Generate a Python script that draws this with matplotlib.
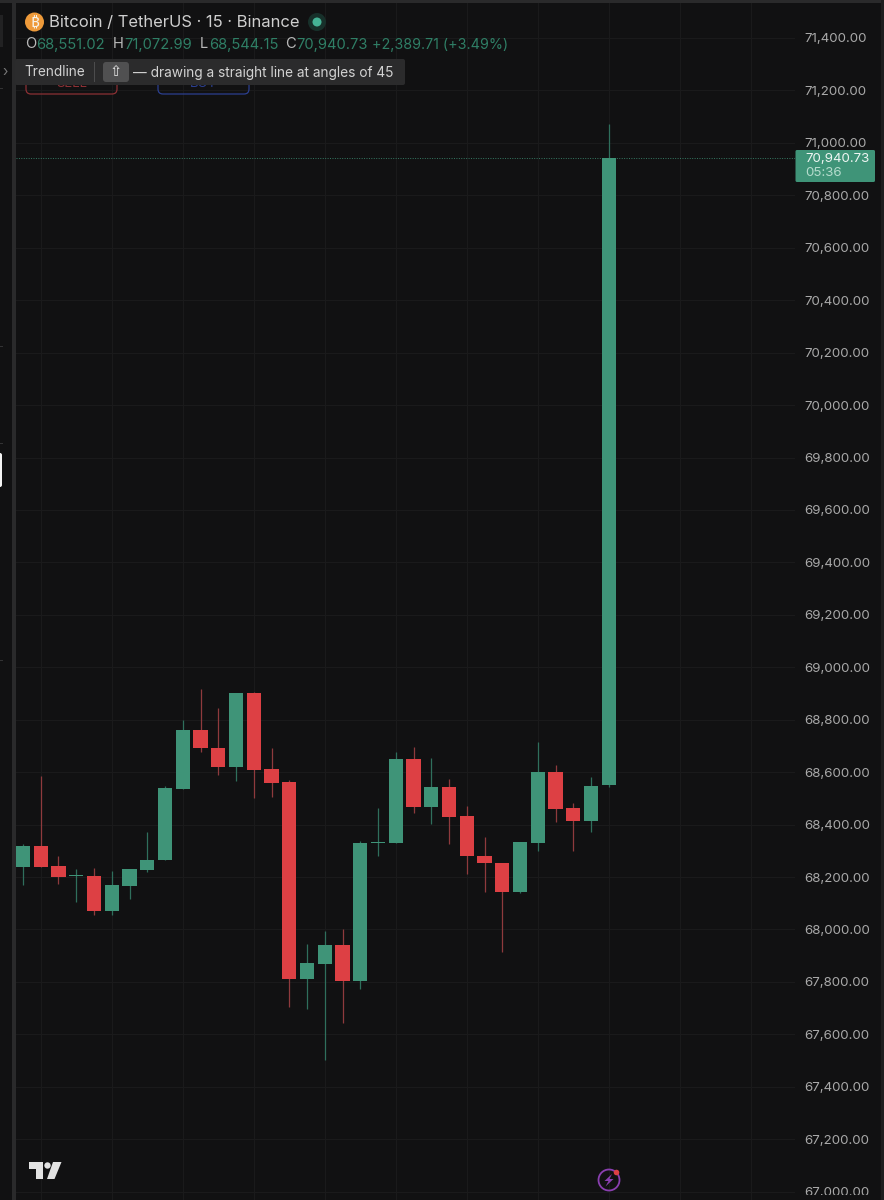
import matplotlib
matplotlib.use("Agg")
import matplotlib.pyplot as plt
from matplotlib.patches import Rectangle, FancyBboxPatch, Circle, Polygon

plt.rcParams['font.family'] = ['Inter', 'DejaVu Sans']

# candle values
opens = [68238, 68319, 68242, 68203, 68204, 68070, 68166, 68227, 68264, 68537, 68762, 68692,
         68619, 68900, 68611, 68561, 67813, 67870, 67940, 67804, 68330, 68330, 68649, 68467,
         68543, 68431, 68281, 68254, 68142, 68330, 68601, 68462, 68415, 68551.02]
highs = [68326, 68584, 68280, 68230, 68234, 68222, 68229, 68372, 68548, 68799, 68916, 68844,
         68900, 68905, 68693, 68570, 67945, 67996, 68000, 68336, 68463, 68677, 68696, 68653,
         68573, 68471, 68354, 68254, 68332, 68715, 68626, 68484, 68581, 71072.99]
lows = [68168, 68239, 68174, 68104, 68056, 68054, 68117, 68220, 68264, 68537, 68678, 68589,
        68565, 68500, 68504, 67704, 67695, 67501, 67645, 67774, 68281, 68330, 68445, 68403,
        68325, 68213, 68143, 67914, 68140, 68298, 68409, 68299, 68373, 68544.15]
closes = [68319, 68239, 68201, 68206, 68070, 68168, 68229, 68265, 68538, 68762, 68691, 68619,
          68900, 68608, 68560, 67813, 67872, 67940, 67804, 68330, 68332, 68649, 68466, 68543,
          68430, 68279, 68252, 68142, 68332, 68601, 68458, 68415, 68548, 70940.73]
price_ticks = [71400 - 200 * i for i in range(23)]
time_grid = [1, 5, 9, 13, 17, 21, 25, 29, 33, 37, 41]

BG = "#111112"
GRID = "#1a1a1b"
UP = "#3f9478"
DOWN = "#dd4044"
UP_WICK = "#2f6f5c"
DOWN_WICK = "#8f3a3d"

fig = plt.figure(figsize=(8.84, 12), dpi=100, facecolor=BG)

# main chart, y scale set so the 200 step is 52.44 px
ax = fig.add_axes([16 / 884, 0, (795 - 16) / 884, 1], facecolor=BG)
ax.set_xlim(-0.394, 43.49)
ax.set_ylim(71400 - (1200 - 38) / 0.2622, 71400 + 38 / 0.2622)
for s in ax.spines.values():
    s.set_visible(False)
ax.set_xticks([])
ax.yaxis.tick_right()
ax.set_yticks(price_ticks)
ax.set_yticklabels([f"{p:,.2f}" for p in price_ticks], fontsize=9.6, color="#a9a9a9")
ax.tick_params(axis="y", length=0, pad=7)
ax.grid(axis="y", color=GRID, lw=0.8)
for x in time_grid:
    ax.axvline(x, color=GRID, lw=0.8, zorder=0)
ax.set_axisbelow(True)

for i in range(len(opens)):
    up = closes[i] >= opens[i]
    ax.vlines(i, lows[i], highs[i], color=UP_WICK if up else DOWN_WICK, lw=0.9, zorder=2)
    bottom = min(opens[i], closes[i])
    height = max(abs(closes[i] - opens[i]), 4)
    # dojis are only a thin tick in the picture
    ax.bar(i, height, bottom=bottom, width=0.8, color=UP if up else DOWN, lw=0, zorder=3)

ax.axhline(closes[-1], color=UP, lw=0.7, ls=(0, (1, 1.5)), alpha=0.8, zorder=1)

# overlay in pixel coordinates for the TradingView furniture
ov = fig.add_axes([0, 0, 1, 1], facecolor="none")
ov.set_xlim(0, 884)
ov.set_ylim(1200, 0)
ov.axis("off")

# left toolbar edge and top strip
ov.add_patch(Rectangle((12, 0), 4, 1200, color="#2a2a2b", lw=0))
ov.add_patch(Rectangle((0, 0), 884, 3, color="#2a2a2b", lw=0))
ov.add_patch(Rectangle((881, 0), 3, 1200, color="#1d1d1e", lw=0))
ov.add_patch(FancyBboxPatch((-4, 453), 6, 34, boxstyle="round,pad=0,rounding_size=2", color="#f4f4f4", lw=0))
ov.add_patch(Rectangle((0, 15), 3, 32, color="#222223", lw=0))
ov.add_patch(Rectangle((0, 88), 3, 1, color="#333334", lw=0))
ov.add_patch(Rectangle((0, 346), 3, 1, color="#333334", lw=0))
ov.add_patch(Rectangle((0, 443), 3, 1, color="#333334", lw=0))
ov.add_patch(Rectangle((0, 660), 3, 1, color="#333334", lw=0))
# the screenshot cuts the lowest price label short
ov.add_patch(Rectangle((795, 1195), 86, 5, color=BG, lw=0, zorder=4))

# header
ov.add_patch(Circle((34.5, 22), 9.5, color="#ee9a3a", lw=0))
ov.text(34.5, 22.5, "\u20bf", color="#f7f3ea", fontsize=11, weight="bold", ha="center", va="center",
        family=["Noto Sans", "Roboto", "Open Sans", "Lato", "Liberation Sans", "Noto Sans CJK SC", "DejaVu Sans"])
ov.text(49, 22.5, "Bitcoin / TetherUS · 15 · Binance", color="#cfcfcf", fontsize=11.95, va="center")
ov.add_patch(Circle((317, 22), 9, color="#17302a", lw=0))
ov.add_patch(Circle((317, 22), 4.5, color="#45b295", lw=0))

OHLC_GREEN = "#2f7f66"
for x, t in [(25, "O"), (113, "H"), (200, "L"), (285, "C")]:
    ov.text(x, 44.5, t, color="#b9b9b9", fontsize=10.6, va="center")
for x, t in [(36, f"{opens[-1]:,.2f}"), (124, f"{highs[-1]:,.2f}"), (209, f"{lows[-1]:,.2f}"),
             (296, f"{closes[-1]:,.2f}")]:
    ov.text(x, 44.5, t, color=OHLC_GREEN, fontsize=10.6, va="center")
ov.text(372, 44.5, "+2,389.71 (+3.49%)", color=OHLC_GREEN, fontsize=10.3, va="center")

# sell / buy boxes sitting behind the tooltip
ov.add_patch(FancyBboxPatch((26, 62), 91, 32, boxstyle="round,pad=0,rounding_size=5", fc="none", ec="#8c3034", lw=0.9))
ov.add_patch(FancyBboxPatch((158, 62), 91, 32, boxstyle="round,pad=0,rounding_size=5", fc="none", ec="#2b3f90", lw=0.9))
ov.text(71.5, 84, "SELL", color="#8c3034", fontsize=9.5, ha="center", va="center")
ov.text(203.5, 84, "BUY", color="#2b3f90", fontsize=9.5, ha="center", va="center")

# tooltip
ov.add_patch(FancyBboxPatch((15, 59), 390, 26, boxstyle="round,pad=0,rounding_size=2", color="#2b2b2c", lw=0, zorder=5))
ov.text(5.5, 72, "\u203a", color="#777777", fontsize=10, ha="center", va="center", zorder=6)
ov.text(24, 72.5, "Trendline", color="#d2d2d2", fontsize=9.8, va="center", zorder=6)
ov.add_patch(Rectangle((94, 62), 1, 20, color="#4c4c4d", lw=0, zorder=6))
ov.add_patch(FancyBboxPatch((103, 62), 26, 20, boxstyle="round,pad=0,rounding_size=3", color="#505051", lw=0, zorder=6))
ov.text(116, 72, "\u21e7", color="#e6e6e6", fontsize=10.5, ha="center", va="center", family="DejaVu Sans", zorder=7)
ov.text(133, 72.5, "— drawing a straight line at angles of 45", color="#d2d2d2", fontsize=9.85, va="center", zorder=6)

# last price tag
ov.add_patch(FancyBboxPatch((795.5, 150), 79.5, 32, boxstyle="round,pad=0,rounding_size=1.5", color=UP, lw=0, zorder=5))
ov.text(805, 158.5, f"{closes[-1]:,.2f}", color="#eef5f2", fontsize=9.6, va="center", zorder=6)
ov.text(805, 173, "05:36", color="#b5dccd", fontsize=9.6, va="center", zorder=6)

# logo
ov.add_patch(Polygon([(29, 1162), (43, 1162), (43, 1179), (35.5, 1179), (35.5, 1169), (29, 1169)], color="#e2e2e2", lw=0))
ov.add_patch(Circle((47.5, 1165.5), 3.2, color="#e2e2e2", lw=0))
ov.add_patch(Polygon([(53, 1162), (61.5, 1162), (54.5, 1179), (47, 1179)], color="#e2e2e2", lw=0))

# lightning badge
ov.add_patch(Circle((609, 1180), 10.5, fc="none", ec="#8a3fb0", lw=1.3))
ov.add_patch(Polygon([(612, 1174), (604.5, 1181), (608.5, 1181), (605.5, 1186.5), (613.5, 1179), (609.5, 1179)], color="#8a3fb0", lw=0))
ov.add_patch(Circle((616.5, 1172.5), 2.8, color="#dd4044", lw=0))

fig.savefig("out.png", dpi=100, facecolor=BG)
